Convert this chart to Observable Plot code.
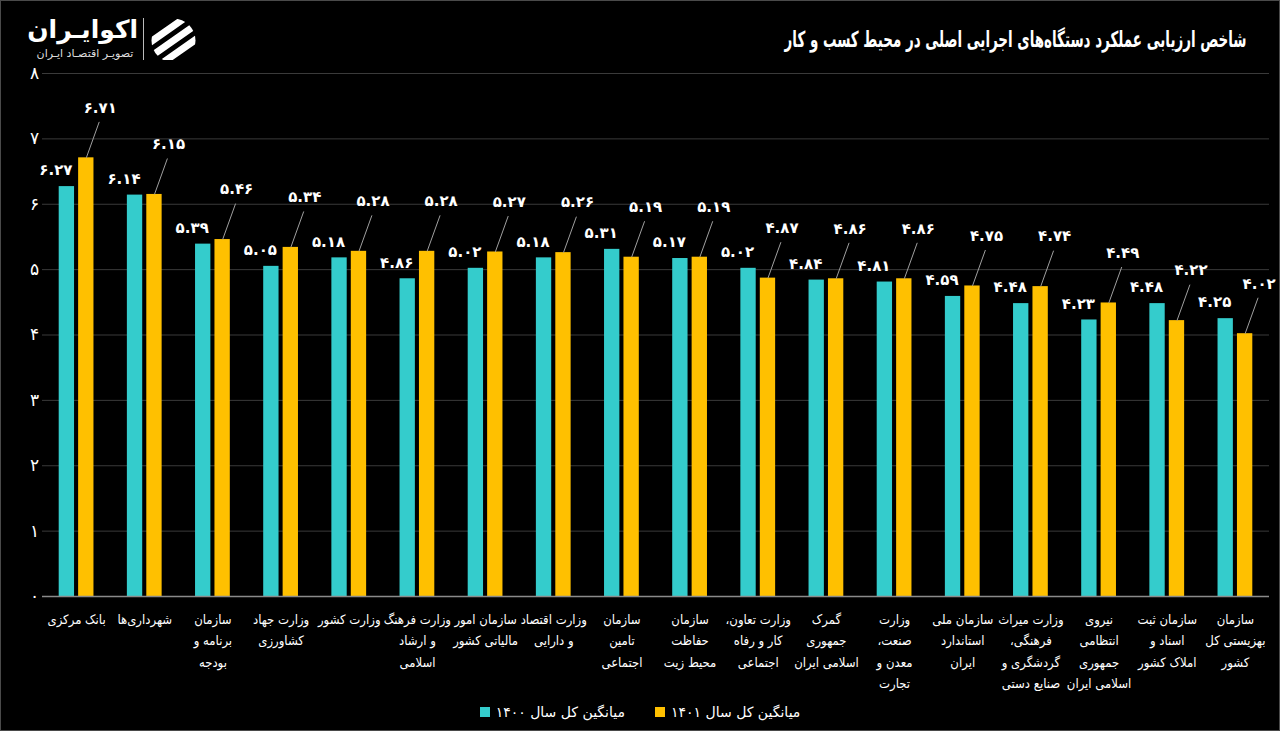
<!DOCTYPE html>
<html><head><meta charset="utf-8">
<script src="https://cdn.jsdelivr.net/npm/d3@7"></script>
<script src="https://cdn.jsdelivr.net/npm/@observablehq/plot@0.6"></script>
<style>
html,body{margin:0;padding:0;background:#000;}
body{width:1280px;height:731px;position:relative;overflow:hidden;font-family:"DejaVu Sans",sans-serif;color:#fff;}
#frame{position:absolute;left:0;top:0;width:1278px;height:729px;border:1px solid #4a4a4a;pointer-events:none;}
#title{position:absolute;right:33px;top:25px;font-size:22px;font-weight:bold;direction:rtl;white-space:nowrap;line-height:30px;font-family:"DejaVu Sans Condensed","DejaVu Sans",sans-serif;transform-origin:right center;}
#brand{position:absolute;left:32px;top:14px;width:106px;text-align:center;font-size:25px;font-weight:bold;direction:rtl;line-height:32px;}
#brandSub{position:absolute;left:32px;top:46px;width:106px;text-align:center;font-size:11px;direction:rtl;color:#ddd;line-height:16px;}
#divider{position:absolute;left:143px;top:18px;width:1px;height:44px;background:#bbb;}
#icon{position:absolute;left:150px;top:17px;}
#chart{position:absolute;left:0;top:60px;}
#legend{position:absolute;left:0;top:701px;width:1280px;display:flex;justify-content:center;direction:rtl;gap:30px;font-size:14px;line-height:22px;}
.item{display:flex;align-items:center;gap:6px;}
.sw{width:10px;height:10px;display:inline-block;}
</style></head>
<body>
<div id="brand">اکوایـران</div>
<div id="brandSub">تصویـر اقتصـاد ایـران</div>
<div id="divider"></div>
<svg id="icon" width="47" height="47" viewBox="0 0 47 47">
  <defs><clipPath id="cc"><circle cx="23.5" cy="23.5" r="22"/></clipPath></defs>
  <g clip-path="url(#cc)" fill="#fff">
    <rect x="-10" y="8" width="70" height="7" rx="3.5" transform="rotate(-35 23.5 23.5)"/>
    <rect x="-10" y="20" width="70" height="7" rx="3.5" transform="rotate(-35 23.5 23.5)"/>
    <rect x="-10" y="32" width="70" height="7" rx="3.5" transform="rotate(-35 23.5 23.5)"/>
  </g>
</svg>
<div id="title"></div>
<div id="chart"></div>
<div id="legend"></div>
<div id="frame"></div>
<script>
const titleText = "شاخص ارزیابی عملکرد دستگاه‌های اجرایی اصلی در محیط کسب و کار";
const categories = [
  "بانک مرکزی",
  "شهرداری‌ها",
  "سازمان\nبرنامه و\nبودجه",
  "وزارت جهاد\nکشاورزی",
  "وزارت کشور",
  "وزارت فرهنگ\nو ارشاد\nاسلامی",
  "سازمان امور\nمالیاتی کشور",
  "وزارت اقتصاد\nو دارایی",
  "سازمان\nتامین\nاجتماعی",
  "سازمان\nحفاظت\nمحیط زیت",
  "وزارت تعاون،\nکار و رفاه\nاجتماعی",
  "گمرک\nجمهوری\nاسلامی ایران",
  "وزارت\nصنعت،\nمعدن و\nتجارت",
  "سازمان ملی\nاستاندارد\nایران",
  "وزارت میراث\nفرهنگی،\nگردشگری و\nصنایع دستی",
  "نیروی\nانتظامی\nجمهوری\nاسلامی ایران",
  "سازمان ثبت\nاسناد و\nاملاک کشور",
  "سازمان\nبهزیستی کل\nکشور"
];
const values1400 = [6.27, 6.14, 5.39, 5.05, 5.18, 4.86, 5.02, 5.18, 5.31, 5.17, 5.02, 4.84, 4.81, 4.59, 4.48, 4.23, 4.48, 4.25];
const values1401 = [6.71, 6.15, 5.46, 5.34, 5.28, 5.28, 5.27, 5.26, 5.19, 5.19, 4.87, 4.86, 4.86, 4.75, 4.74, 4.49, 4.22, 4.02];
const yTicks = [0, 1, 2, 3, 4, 5, 6, 7, 8];
const seriesNames = ["میانگین کل سال ۱۴۰۰", "میانگین کل سال ۱۴۰۱"];
const seriesColors = ["#34cccc", "#ffc000"];

const fa = s => String(s).replace(/[0-9]/g, d => "۰۱۲۳۴۵۶۷۸۹"[+d]);
const fmt = v => fa(v.toFixed(2));

const barW = 0.225, gap = 0.03;
const rows = categories.flatMap((c, i) => [
  {i, series: 0, value: values1400[i]},
  {i, series: 1, value: values1401[i]}
]);
const teal = rows.filter(d => d.series === 0);
const yellow = rows.filter(d => d.series === 1);
const x1Of = d => d.series === 0 ? d.i - gap - barW : d.i + gap;
const cxOf = d => x1Of(d) + barW / 2;

const titleEl = document.getElementById("title");
titleEl.textContent = titleText;
const tw = titleEl.getBoundingClientRect().width;
if (tw > 0) titleEl.style.transform = `scaleX(${Math.min(1, 462 / tw)})`;

const chart = Plot.plot({
  width: 1280, height: 630,
  marginTop: 13, marginBottom: 94, marginLeft: 42, marginRight: 11,
  style: {background: "#000", color: "#fff", fontFamily: "DejaVu Sans", overflow: "visible", direction: "rtl"},
  x: {type: "linear", domain: [-0.5, categories.length - 0.5], axis: null},
  y: {type: "linear", domain: [0, 8], axis: null},
  marks: [
    Plot.gridY(yTicks.filter(d => d > 0), {stroke: "#3a3a3a", strokeOpacity: 1, strokeWidth: 1}),
    Plot.axisY(yTicks, {anchor: "left", label: null, tickSize: 0, tickPadding: 20, tickFormat: fa, fontSize: 17, fill: "#fff", textAnchor: "middle", dx: 12}),
    Plot.axisX(d3.range(categories.length), {anchor: "bottom", label: null, tickSize: 0, tickPadding: 12, tickFormat: i => categories[i], fontSize: 13, lineHeight: 1.65, fill: "#fff", fontFamily: "DejaVu Sans Condensed, DejaVu Sans"}),
    Plot.rect(rows, {x1: x1Of, x2: d => x1Of(d) + barW, y1: 0, y2: "value", fill: d => seriesColors[d.series]}),
    Plot.ruleY([0], {stroke: "#8a8a8a", strokeWidth: 1.5}),
    Plot.link(yellow, {x1: cxOf, y1: "value", x2: d => cxOf(d) + 0.19, y2: d => d.value + 0.55, stroke: "#a0a0a0", strokeWidth: 1}),
    Plot.text(teal, {x: cxOf, y: "value", text: d => fmt(d.value), dx: -11, dy: -16, fill: "#fff", fontSize: 15, fontWeight: "bold"}),
    Plot.text(yellow, {x: cxOf, y: "value", text: d => fmt(d.value), dx: 14, dy: -50, fill: "#fff", fontSize: 15, fontWeight: "bold"})
  ]
});
document.getElementById("chart").appendChild(chart);

const legend = document.getElementById("legend");
[1, 0].forEach(s => {
  const item = document.createElement("div");
  item.className = "item";
  const t = document.createElement("span");
  t.textContent = seriesNames[s];
  const sw = document.createElement("span");
  sw.className = "sw";
  sw.style.background = seriesColors[s];
  item.appendChild(t);
  item.appendChild(sw);
  legend.appendChild(item);
});
</script>
</body></html>
